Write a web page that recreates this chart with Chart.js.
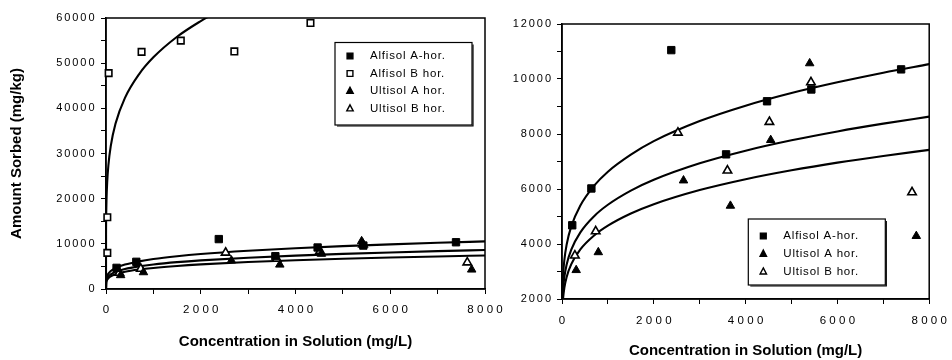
<!DOCTYPE html>
<html>
<head>
<meta charset="utf-8">
<script src="https://cdn.jsdelivr.net/npm/chart.js@4.4.0/dist/chart.umd.min.js"></script>
<style>
  body { margin: 0; background: #fff; width: 952px; height: 360px; position: relative; overflow: hidden; }
  #left { position: absolute; left: 0; top: 0; }
  #right { position: absolute; left: 500px; top: 0; }
</style>
</head>
<body>
<canvas id="left" width="520" height="360"></canvas>
<canvas id="right" width="452" height="360"></canvas>
<script>
// measured points, x = concentration in solution (mg/L), y = amount sorbed (mg/kg)
const alfisolA_x = [223, 640, 2381, 3575, 4467, 5432, 7388];
const alfisolA_y = [4680, 6020, 11050, 7260, 9190, 9620, 10350];
const alfisolB_x = [28, 28, 56, 751, 1579, 2709, 4316];
const alfisolB_y = [8000, 15900, 47800, 52500, 55000, 52600, 58900];
const ultisolA_x = [309, 791, 2647, 3669, 4547, 5396, 7719];
const ultisolA_y = [3050, 3700, 6310, 5390, 7780, 10570, 4290];
const ultisolB_x = [281, 734, 2525, 3604, 4518, 5424, 7626];
const ultisolB_y = [3580, 4460, 8050, 6670, 8440, 9880, 5880];

// fitted isotherm curves
const fit_x = [0, 5, 10, 25, 50, 100, 200, 400, 700, 1000, 1500, 2000, 3000, 4000, 5000, 6000, 7000, 8000];
const fitAlfisolA = [0, 2030, 2370, 2910, 3400, 3970, 4630, 5400, 6120, 6630, 7250, 7740, 8470, 9030, 9490, 9880, 10230, 10540];
const fitUltisolB = [0, 1665, 1943, 2384, 2783, 3248, 3790, 4424, 5013, 5427, 5941, 6335, 6934, 7393, 7770, 8094, 8376, 8632];
const fitUltisolA = [0, 1432, 1671, 2050, 2393, 2793, 3259, 3804, 4310, 4666, 5108, 5447, 5962, 6357, 6681, 6960, 7202, 7422];
const fitB_x = [0, 1, 5, 10, 25, 50, 100, 200, 400, 700, 1000, 1500, 2000, 2200];
const fitAlfisolB = [0, 12000, 16860, 19500, 23640, 27340, 31620, 36580, 42310, 47590, 51290, 55850, 59320, 60520];

const ink = '#000';
const fam = '"Liberation Sans", Arial, Helvetica, sans-serif';

function pts(xs, ys) {
  return xs.map((x, i) => ({ x: x, y: ys[i] }));
}

function pointSet(label, xs, ys, style, filled) {
  return {
    label: label,
    data: pts(xs, ys),
    pointStyle: style,
    pointRadius: style === 'rect' ? (filled ? 5.2 : 4.6) : 4.9,
    pointHoverRadius: 5,
    backgroundColor: filled ? ink : '#fff',
    borderColor: ink,
    borderWidth: filled ? 1 : 1.6,
    clip: 10
  };
}

function fitSet(xs, ys) {
  return {
    fit: true,
    data: pts(xs, ys),
    showLine: true,
    pointRadius: 0,
    borderColor: ink,
    borderWidth: 2.1,
    cubicInterpolationMode: 'monotone',
    fill: false
  };
}

// letter-spaced tick labels, like the typeset original
function track(scale, ls) {
  if (scale._tracked) return;
  scale._tracked = true;
  const draw = scale.drawLabels;
  scale.drawLabels = function (area) {
    const ctx = this.ctx;
    ctx.save();
    ctx.letterSpacing = ls + 'px';
    ctx.translate(this.isHorizontal() ? ls / 2 : ls, 0);
    draw.call(this, area);
    ctx.restore();
  };
}

function marker(ctx, style, x, y, r, fill) {
  ctx.beginPath();
  if (style === 'rect') {
    ctx.rect(x - r, y - r, 2 * r, 2 * r);
  } else {
    ctx.moveTo(x, y - r * 1.15);
    ctx.lineTo(x + r, y + r * 0.75);
    ctx.lineTo(x - r, y + r * 0.75);
    ctx.closePath();
  }
  ctx.fillStyle = fill;
  ctx.fill();
  ctx.lineWidth = 1.4;
  ctx.strokeStyle = ink;
  ctx.stroke();
}

const frame = {
  id: 'frame',
  beforeDatasetsDraw(chart) {
    const a = chart.chartArea, ctx = chart.ctx;
    ctx.save();
    ctx.strokeStyle = ink;
    ctx.lineWidth = 1.5;
    ctx.strokeRect(a.left, a.top, a.right - a.left, a.bottom - a.top);
    ctx.restore();
  }
};

const boxLegend = {
  id: 'boxLegend',
  afterDatasetsDraw(chart, args, o) {
    const ctx = chart.ctx;
    const items = chart.data.datasets.filter(d => !d.fit);
    ctx.save();
    ctx.fillStyle = '#fff';
    ctx.fillRect(o.x, o.y, o.w, o.h);
    ctx.strokeStyle = ink;
    ctx.lineWidth = 1.2;
    ctx.strokeRect(o.x, o.y, o.w, o.h);
    ctx.beginPath();
    ctx.moveTo(o.x + 2, o.y + o.h + 1);
    ctx.lineTo(o.x + o.w + 1, o.y + o.h + 1);
    ctx.lineTo(o.x + o.w + 1, o.y + 2);
    ctx.stroke();
    ctx.font = '11.5px ' + fam;
    ctx.letterSpacing = '0.8px';
    ctx.textBaseline = 'middle';
    ctx.textAlign = 'left';
    items.forEach((d, i) => {
      const y = o.y + o.first + i * o.gap;
      marker(ctx, d.pointStyle, o.x + 15, y, d.pointStyle === 'rect' ? 2.9 : 3.2, d.backgroundColor);
      ctx.fillStyle = ink;
      ctx.fillText(d.label, o.x + 35, y);
    });
    ctx.restore();
  }
};

function axisX(height, pad, titlePad) {
  return {
    type: 'linear', min: 0, max: 8000,
    ticks: {
      stepSize: 1000, autoSkip: false, maxRotation: 0, padding: pad, color: ink,
      font: { family: fam, size: 11.5 },
      callback: v => (v % 2000 === 0 ? String(v) : '')
    },
    grid: { drawOnChartArea: false, drawTicks: true, tickLength: 5, color: ink, lineWidth: 1 },
    border: { color: ink, width: 1.5 },
    title: {
      display: true, text: 'Concentration in Solution (mg/L)', color: ink,
      font: { family: fam, size: 15, weight: 'bold' }, padding: { top: 0, bottom: titlePad }
    },
    afterFit: s => { s.height = height; track(s, 3.3); }
  };
}

function axisY(min, max, step, every, width, pad, title) {
  return {
    type: 'linear', min: min, max: max,
    ticks: {
      stepSize: step, autoSkip: false, padding: pad, color: ink,
      font: { family: fam, size: 11 },
      callback: v => (v % every === 0 ? String(v) : '')
    },
    grid: { drawOnChartArea: false, drawTicks: true, tickLength: 5, color: ink, lineWidth: 1 },
    border: { color: ink, width: 1.5 },
    title: {
      display: !!title, text: title || '', color: ink,
      font: { family: fam, size: 15, weight: 'bold' }, padding: { top: 8, bottom: 0 }
    },
    afterFit: s => { s.width = width; track(s, 1.9); }
  };
}

let leftChart = new Chart(document.getElementById('left').getContext('2d'), {
  type: 'scatter',
  data: {
    datasets: [
      pointSet('Alfisol A-hor.', alfisolA_x, alfisolA_y, 'rect', true),
      pointSet('Alfisol B hor.', alfisolB_x, alfisolB_y, 'rect', false),
      pointSet('Ultisol A hor.', ultisolA_x, ultisolA_y, 'triangle', true),
      pointSet('Ultisol B hor.', ultisolB_x, ultisolB_y, 'triangle', false),
      fitSet(fit_x, fitAlfisolA),
      fitSet(fit_x, fitUltisolB),
      fitSet(fit_x, fitUltisolA),
      fitSet(fitB_x, fitAlfisolB)
    ]
  },
  options: {
    responsive: false,
    animation: false,
    layout: { padding: { left: 0, top: 18, right: 35, bottom: 0 } },
    scales: {
      x: axisX(71, 8.5, 9),
      y: axisY(0, 60000, 5000, 10000, 106, 6.5, 'Amount Sorbed (mg/kg)')
    },
    plugins: {
      legend: { display: false },
      tooltip: { enabled: false },
      boxLegend: { x: 335, y: 42.5, w: 137, h: 82.5, first: 13.5, gap: 17.5 }
    }
  },
  plugins: [frame, boxLegend]
});

let rightChart = new Chart(document.getElementById('right').getContext('2d'), {
  type: 'scatter',
  data: {
    datasets: [
      pointSet('Alfisol A-hor.', alfisolA_x, alfisolA_y, 'rect', true),
      pointSet('Ultisol A hor.', ultisolA_x, ultisolA_y, 'triangle', true),
      pointSet('Ultisol B hor.', ultisolB_x, ultisolB_y, 'triangle', false),
      fitSet(fit_x, fitAlfisolA),
      fitSet(fit_x, fitUltisolB),
      fitSet(fit_x, fitUltisolA)
    ]
  },
  options: {
    responsive: false,
    animation: false,
    layout: { padding: { left: 0, top: 24, right: 20, bottom: 0 } },
    scales: {
      x: axisX(61, 10, 0),
      y: axisY(2000, 12000, 1000, 2000, 62, 6, '')
    },
    plugins: {
      legend: { display: false },
      tooltip: { enabled: false },
      boxLegend: { x: 248.3, y: 219, w: 137, h: 66, first: 17, gap: 17.8 }
    }
  },
  plugins: [frame, boxLegend]
});
</script>
</body>
</html>
